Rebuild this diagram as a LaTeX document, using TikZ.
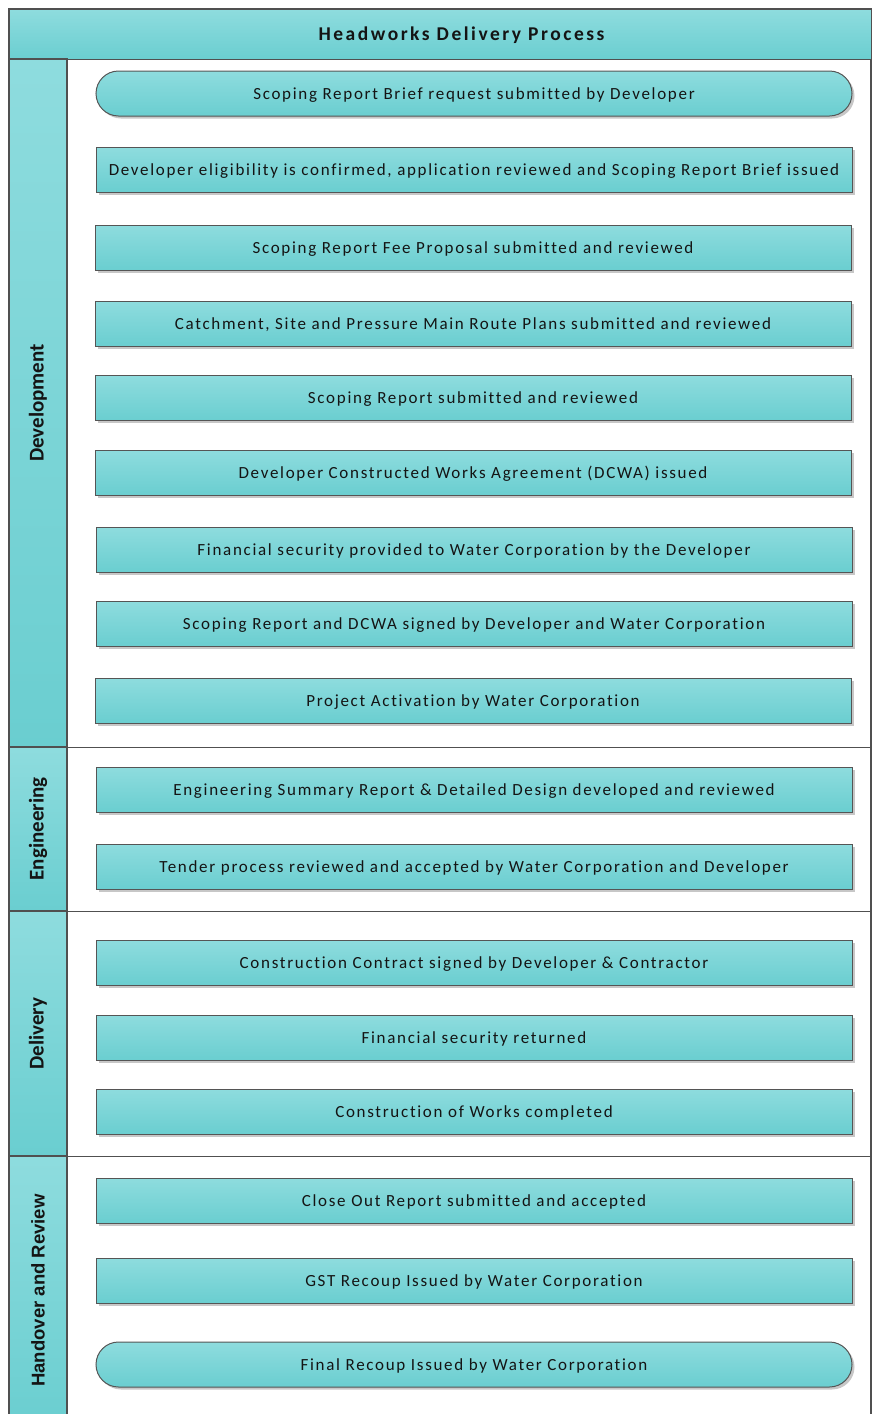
\documentclass[tikz,border=0pt]{standalone}
\usepackage{fontspec}
\setmainfont{Carlito}
\newfontfamily\boxfont[LetterSpace=10,Ligatures=NoCommon]{Carlito}
\newfontfamily\titlefont[LetterSpace=13,Ligatures=NoCommon]{Carlito}
\newfontfamily\arialfont{Liberation Sans}
\usetikzlibrary{shadows}
\definecolor{tealtop}{RGB}{142,220,222}
\definecolor{tealbot}{RGB}{106,206,208}
\definecolor{boxline}{RGB}{85,85,85}
\definecolor{frameline}{RGB}{80,80,80}
\definecolor{textc}{RGB}{20,20,20}
\tikzset{
  procbox/.style={draw=boxline, line width=1pt, top color=tealtop, bottom color=tealbot,
    minimum width=756pt, minimum height=45pt, inner sep=0pt,
    text height=12pt, text depth=1pt,
    drop shadow={shadow xshift=2.5pt, shadow yshift=-2.5pt, opacity=0.22, fill=black},
    font=\boxfont\fontsize{17}{20}\selectfont, text=textc},
  termbox/.style={procbox, rounded corners=22.5pt},
  lanehead/.style={draw=frameline, line width=1.3pt, top color=tealtop, bottom color=tealbot,
    rotate=90, minimum height=58pt, inner sep=0pt, text=textc,
    font=\bfseries\fontsize{21}{24}\selectfont},
  titleband/.style={draw=frameline, line width=1.3pt, top color=tealtop, bottom color=tealbot,
    minimum width=862pt, minimum height=50pt, inner sep=0pt},
  titletextstyle/.style={inner sep=0pt, text=textc, text height=13pt, text depth=1pt,
    font=\titlefont\bfseries\fontsize{19.5}{22}\selectfont},
  sepline/.style={draw=frameline, line width=1.3pt}
}
\begin{document}
\begin{tikzpicture}[x=1pt,y=-1pt]
\useasboundingbox (0,0) rectangle (872,1414);
\clip (0,0) rectangle (872,1414);
% outer frame
\draw[sepline] (9,9) rectangle (871,1425);
% title
\node[titleband, anchor=north west] (title) at (9,9) {};
\node[titletextstyle] (titletext) at (461.5,34) {Headworks Delivery Process};
% lane headers
\node[lanehead, minimum width=688pt] (dev) at (38,403) {Development};
\node[lanehead, minimum width=164pt] (eng) at (38,829) {Engineering};
\node[lanehead, minimum width=245pt] (del) at (38,1033.5) {Delivery};
\node[lanehead, minimum width=269pt, font={\arialfont\bfseries\fontsize{18.5}{22}\selectfont}] (hand) at (38,1290.5) {Handover and Review};
% lane separators
\draw[sepline] (dev.south west) -- (dev.south west -| title.east);
\draw[sepline] (eng.south west) -- (eng.south west -| title.east);
\draw[sepline] (del.south west) -- (del.south west -| title.east);
% process boxes
\node[termbox] (s1) at (474,93.5) {Scoping Report Brief request submitted by Developer};
\node[procbox] (s2) at (474,169.5) {Developer eligibility is confirmed, application reviewed and Scoping Report Brief issued};
\node[procbox] (s3) at (473,247.5) {Scoping Report Fee Proposal submitted and reviewed};
\node[procbox] (s4) at (473,323.5) {Catchment, Site and Pressure Main Route Plans submitted and reviewed};
\node[procbox] (s5) at (473,398) {Scoping Report submitted and reviewed};
\node[procbox] (s6) at (473,472.5) {Developer Constructed Works Agreement (DCWA) issued};
\node[procbox] (s7) at (474,549.5) {Financial security provided to Water Corporation by the Developer};
\node[procbox] (s8) at (474,623.5) {Scoping Report and DCWA signed by Developer and Water Corporation};
\node[procbox] (s9) at (473,700.5) {Project Activation by Water Corporation};
\node[procbox] (s10) at (474,789.5) {Engineering Summary Report \& Detailed Design developed and reviewed};
\node[procbox] (s11) at (474,866.5) {Tender process reviewed and accepted by Water Corporation and Developer};
\node[procbox] (s12) at (474,962.5) {Construction Contract signed by Developer \& Contractor};
\node[procbox] (s13) at (474,1037.5) {Financial security returned};
\node[procbox] (s14) at (474,1111.5) {Construction of Works completed};
\node[procbox] (s15) at (474,1200.5) {Close Out Report submitted and accepted};
\node[procbox] (s16) at (474,1280.5) {GST Recoup Issued by Water Corporation};
\node[termbox] (s17) at (474,1364.5) {Final Recoup Issued by Water Corporation};
\end{tikzpicture}
\end{document}
